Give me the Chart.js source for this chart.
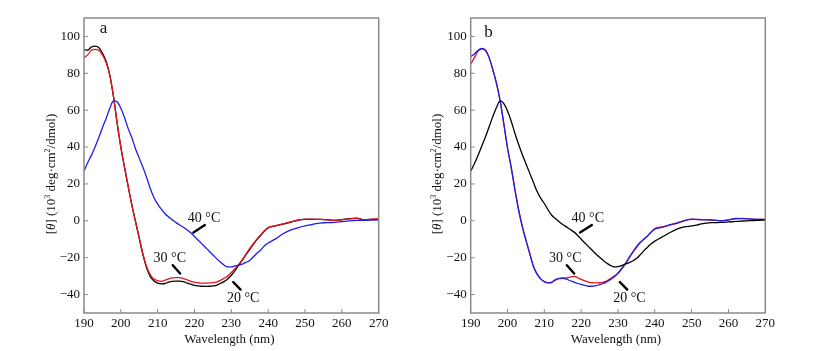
<!DOCTYPE html>
<html>
<head>
<meta charset="utf-8">
<script src="https://cdn.jsdelivr.net/npm/chart.js@4.4.0/dist/chart.umd.min.js"></script>
<style>
  body { margin: 0; background: #fff; }
  .panel { position: absolute; top: 0; width: 410px; height: 351px; }
</style>
</head>
<body>
<div class="panel" style="left:0"><canvas id="chartA" width="410" height="351"></canvas></div>
<div class="panel" style="left:410px"><canvas id="chartB" width="410" height="351"></canvas></div>
<script>
// wavelength (nm)
const wavelength = [
  190, 191, 192, 193, 194, 195, 196, 197, 198, 199,
  200, 201, 202, 203, 204, 205, 206, 207, 208, 209,
  210, 211, 212, 213, 214, 215, 216, 217, 218, 219,
  220, 221, 222, 223, 224, 225, 226, 227, 228, 229,
  230, 231, 232, 233, 234, 235, 236, 237, 238, 239,
  240, 242, 244, 246, 248, 250, 252, 254, 256, 258,
  260, 262, 264, 266, 268, 270
];

// panel a
const a20 = [
  92.8, 92.5, 94.3, 94.8, 94.0, 91.0, 86.5, 79.0, 67.5, 53.0,
  40.0, 29.0, 18.5, 8.5, -0.5, -9.5, -18.5, -25.5, -30.3, -32.7,
  -33.8, -34.2, -34.0, -33.2, -32.8, -32.7, -32.7, -33.0, -33.8, -34.4,
  -35.0, -35.3, -35.5, -35.6, -35.5, -35.3, -35.0, -34.0, -33.0, -31.5,
  -29.5, -27.0, -24.0, -21.3, -18.3, -15.5, -12.6, -10.0, -7.8, -5.5,
  -3.8, -2.8, -1.8, -0.8, 0.3, 0.8, 0.8, 0.8, 0.6, 0.2,
  0.6, 1.2, 1.5, 0.5, 0.8, 1.0
];
const a30 = [
  88.5, 90.0, 92.5, 93.0, 92.5, 90.0, 85.8, 79.0, 67.5, 53.0,
  40.0, 29.0, 18.5, 8.5, -0.5, -9.3, -18.0, -24.8, -29.3, -31.6,
  -32.5, -32.8, -32.2, -31.5, -31.0, -30.8, -30.8, -31.3, -32.0, -32.8,
  -33.3, -33.6, -33.8, -33.8, -33.7, -33.5, -33.2, -32.3, -31.2, -30.0,
  -28.0, -26.0, -23.5, -21.0, -18.0, -15.0, -12.3, -9.8, -7.5, -5.3,
  -3.6, -2.6, -1.6, -0.6, 0.4, 0.9, 0.9, 0.8, 0.5, 0.3,
  0.5, 1.0, 1.3, 0.6, 0.9, 1.1
];
const a40 = [
  27.0, 31.5, 35.5, 40.0, 45.0, 50.5, 55.5, 61.0, 65.0, 64.5,
  61.0, 56.0, 50.0, 45.0, 39.0, 34.0, 29.0, 23.5, 17.5, 12.5,
  9.0, 6.3, 3.8, 2.0, 0.5, -1.0, -2.3, -3.5, -5.0, -6.5,
  -8.5, -10.5, -12.5, -14.5, -16.5, -18.5, -20.5, -22.3, -24.0, -25.0,
  -25.0, -24.5, -24.0, -23.5, -22.5, -21.5, -19.5, -17.5, -15.8, -13.5,
  -12.0, -9.8, -7.0, -5.0, -3.8, -2.8, -2.0, -1.2, -1.0, -0.8,
  -0.4, 0.0, 0.2, 0.3, 0.4, 0.5
];

// panel b
const b20 = [
  89.0, 90.5, 92.5, 93.5, 92.5, 88.5, 82.0, 74.5, 65.0, 52.5,
  39.5, 29.0, 17.0, 6.0, -3.0, -10.5, -17.5, -24.5, -28.8, -31.5,
  -33.0, -33.7, -33.5, -32.0, -31.3, -31.2, -31.6, -32.5, -33.2, -34.0,
  -34.5, -35.0, -35.5, -35.5, -35.2, -34.6, -34.0, -33.0, -31.8, -30.4,
  -28.5, -26.0, -23.2, -20.0, -17.0, -14.0, -11.8, -10.0, -8.3, -6.2,
  -4.5, -3.5, -2.2, -1.2, 0.0, 0.9, 0.6, 0.5, 0.4, 0.0,
  0.5, 1.3, 1.2, 1.0, 0.7, 0.7
];
const b30 = [
  85.0, 88.5, 92.0, 93.2, 92.5, 88.5, 82.0, 74.5, 65.0, 52.5,
  39.5, 29.0, 17.0, 6.0, -3.0, -10.5, -17.5, -24.5, -28.8, -31.5,
  -33.0, -33.5, -33.2, -32.0, -31.2, -31.0, -31.0, -30.5, -30.1, -30.8,
  -31.8, -32.6, -33.2, -33.6, -33.7, -33.6, -33.2, -32.5, -31.3, -30.0,
  -28.3, -26.0, -23.3, -20.2, -17.2, -14.5, -12.0, -10.0, -8.2, -6.0,
  -4.2, -3.3, -2.4, -1.3, 0.1, 0.8, 0.7, 0.6, 0.3, 0.1,
  0.5, 1.1, 1.3, 0.9, 0.7, 0.8
];
const b40 = [
  27.0, 31.0, 35.5, 40.5, 45.5, 51.0, 56.5, 61.5, 65.0, 63.5,
  59.5, 54.0, 47.5, 41.5, 36.0, 31.0, 26.0, 21.0, 16.0, 12.3,
  9.4, 6.0, 3.0, 1.2, -0.5, -2.0, -3.3, -4.6, -6.0, -7.8,
  -10.0, -12.0, -14.0, -16.0, -18.0, -19.8, -21.5, -23.0, -24.3, -25.0,
  -24.8, -24.3, -23.5, -22.7, -21.8, -20.5, -18.5, -16.3, -14.3, -12.5,
  -11.0, -8.8, -6.5, -4.5, -3.3, -2.8, -2.0, -1.2, -1.0, -0.9,
  -0.6, -0.3, -0.1, 0.1, 0.3, 0.4
];

const xTicks = [190, 200, 210, 220, 230, 240, 250, 260, 270];
const yTicks = [-40, -20, 0, 20, 40, 60, 80, 100];

// temperature labels [text, x, y] and their arrows [x1, y1, x2, y2] (data units)
const notesA = [["40 °C", 222.6, 1.5], ["30 °C", 213.3, -20.3], ["20 °C", 233.2, -42.3]];
const arrowsA = [[222.8, -2.3, 219.7, -6.4], [214.1, -24.1, 216.1, -28.6], [230.5, -33.2, 232.5, -37.3]];
const notesB = [["40 °C", 221.8, 1.5], ["30 °C", 215.7, -20.3], ["20 °C", 233.1, -42.3]];
const arrowsB = [[222.9, -2.3, 219.7, -6.3], [216.1, -24.1, 218.1, -28.6], [230.5, -33.2, 232.5, -37.3]];

const BLACK = "#000000";
const RED = "rgb(232,20,30)";
const BLUE = "rgb(30,30,235)";
const SERIF = "'Liberation Serif', 'DejaVu Serif', serif";

const toPoints = (vals) => wavelength.map((w, i) => ({ x: w, y: vals[i] }));

const line = (vals, color) => ({
  data: toPoints(vals),
  borderColor: color,
  borderWidth: 1.3,
  pointRadius: 0,
  cubicInterpolationMode: "monotone",
  fill: false,
});

// frame, inward ticks, titles, panel letter, annotations
const decorPlugin = {
  id: "decor",
  afterDraw(chart, args, opts) {
    const { ctx, chartArea: ca, scales } = chart;
    const xs = scales.x, ys = scales.y;
    ctx.save();
    ctx.strokeStyle = "#8a8a8a";
    ctx.lineWidth = 1.5;
    ctx.strokeRect(ca.left, ca.top, ca.right - ca.left, ca.bottom - ca.top);

    ctx.lineWidth = 1;
    xTicks.forEach((v) => {
      const px = xs.getPixelForValue(v);
      ctx.beginPath();
      ctx.moveTo(px, ca.bottom);
      ctx.lineTo(px, ca.bottom - 4);
      ctx.stroke();
    });
    yTicks.forEach((v) => {
      const py = ys.getPixelForValue(v);
      ctx.beginPath();
      ctx.moveTo(ca.left, py);
      ctx.lineTo(ca.left + 4, py);
      ctx.stroke();
    });

    ctx.fillStyle = "#111";
    // x title
    ctx.font = "13px " + SERIF;
    ctx.textAlign = "center";
    ctx.textBaseline = "middle";
    ctx.fillText("Wavelength (nm)", (ca.left + ca.right) / 2 - 2, 340);

    // y title with italic theta and superscripts
    const parts = [
      ["[", "13px", 0],
      ["θ", "italic 13px", 0],
      ["] (10", "13px", 0],
      ["3", "8px", -5],
      [" deg·cm", "13px", 0],
      ["2", "8px", -5],
      ["/dmol)", "13px", 0],
    ];
    let total = 0;
    parts.forEach((p) => {
      ctx.font = p[1] + " " + SERIF;
      p.push(ctx.measureText(p[0]).width);
      total += p[3];
    });
    ctx.translate(ca.left - 34, 174);
    ctx.rotate(-Math.PI / 2);
    ctx.textAlign = "left";
    ctx.textBaseline = "alphabetic";
    let cx = -total / 2;
    parts.forEach((p) => {
      ctx.font = p[1] + " " + SERIF;
      ctx.fillText(p[0], cx, 4.5 + p[2]);
      cx += p[3];
    });
    ctx.setTransform(1, 0, 0, 1, 0, 0);

    // panel letter
    ctx.font = "17px " + SERIF;
    ctx.textAlign = "center";
    ctx.textBaseline = "middle";
    ctx.fillText(opts.letter, xs.getPixelForValue(opts.letterX), ys.getPixelForValue(opts.letterY));

    // temperature notes
    ctx.font = "14px " + SERIF;
    opts.notes.forEach((n) => {
      ctx.fillText(n[0], xs.getPixelForValue(n[1]), ys.getPixelForValue(n[2]));
    });
    ctx.strokeStyle = "#000";
    ctx.lineWidth = 2.4;
    ctx.lineCap = "round";
    opts.arrows.forEach((a) => {
      ctx.beginPath();
      ctx.moveTo(xs.getPixelForValue(a[0]), ys.getPixelForValue(a[1]));
      ctx.lineTo(xs.getPixelForValue(a[2]), ys.getPixelForValue(a[3]));
      ctx.stroke();
    });
    ctx.restore();
  },
};

const makeChart = (id, datasets, leftWidth, rightPad, decor) =>
  new Chart(document.getElementById(id), {
    type: "line",
    data: { datasets },
    options: {
      responsive: false,
      animation: false,
      layout: { padding: { top: 18, right: rightPad, bottom: 0, left: 0 } },
      plugins: { legend: { display: false }, tooltip: { enabled: false }, decor },
      scales: {
        x: {
          type: "linear",
          min: 190,
          max: 270,
          afterBuildTicks: (s) => { s.ticks = xTicks.map((v) => ({ value: v })); },
          afterFit: (s) => { s.height = 38; },
          grid: { display: false, drawTicks: false },
          border: { display: false },
          ticks: { padding: 3, color: "#111", font: { family: SERIF, size: 13 }, maxRotation: 0 },
        },
        y: {
          min: -50,
          max: 110,
          afterBuildTicks: (s) => { s.ticks = yTicks.map((v) => ({ value: v })); },
          afterFit: (s) => { s.width = leftWidth; },
          grid: { display: false, drawTicks: false },
          border: { display: false },
          ticks: {
            padding: 4,
            color: "#111",
            font: { family: SERIF, size: 13 },
            callback: (v) => (v < 0 ? "\u2212" + Math.abs(v) : String(v)),
          },
        },
      },
    },
    plugins: [decorPlugin],
  });

makeChart("chartA", [line(a40, BLUE), line(a30, RED), line(a20, BLACK)], 84, 31.3,
  { letter: "a", letterX: 195.3, letterY: 104.3, notes: notesA, arrows: arrowsA });
makeChart("chartB", [line(b40, BLACK), line(b20, BLUE), line(b30, RED)], 60.7, 54.7,
  { letter: "b", letterX: 194.8, letterY: 102, notes: notesB, arrows: arrowsB });
</script>
</body>
</html>
